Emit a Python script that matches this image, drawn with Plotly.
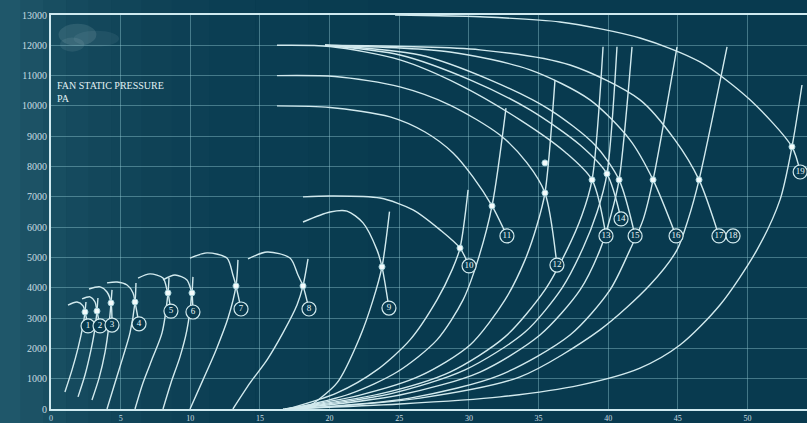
import plotly.graph_objects as go

# ---------------- data (flow rate vs. fan static pressure, Pa) ----------------
y_ticks = list(range(0, 13001, 1000))
y_tick_text = [str(v) for v in y_ticks]
x_ticks = [0, 5, 10, 15, 20, 25, 30, 35, 40, 45, 50]

# fan characteristic curves (one list per fan), ending at the label position
fan_x = [
    [1.22, 1.87, 2.30, 2.44, 2.66],
    [2.23, 2.80, 3.16, 3.30, 3.52],
    [2.73, 3.52, 4.02, 4.31, 4.38],
    [4.02, 4.74, 5.46, 5.89, 6.03, 6.32],
    [6.25, 7.11, 8.04, 8.33, 8.40, 8.61],
    [8.04, 8.90, 9.76, 10.05, 10.12, 10.19],
    [9.98, 11.20, 12.63, 13.06, 13.28, 13.64],
    [14.14, 15.51, 17.16, 17.73, 18.09, 18.52],
    [18.09, 20.03, 21.25, 22.40, 23.40, 23.76, 24.26],
    [18.09, 20.03, 23.62, 25.99, 27.93, 29.36, 30.01],
    [16.22, 20.03, 24.34, 26.85, 28.86, 30.29, 31.66, 32.73],
    [16.22, 20.39, 25.05, 28.64, 32.23, 34.17, 35.46, 36.32],
    [16.22, 20.03, 25.05, 29.36, 33.67, 36.90, 38.84, 39.84],
    [19.67, 25.05, 30.08, 34.39, 37.98, 39.91, 40.92],
    [19.67, 26.49, 31.51, 35.82, 39.05, 40.78, 41.93],
    [19.67, 28.64, 34.39, 38.69, 41.56, 43.22, 44.87],
    [19.67, 30.80, 37.26, 42.28, 44.79, 46.52, 47.95],
    [24.70, 30.80, 36.54, 42.28, 46.59, 50.18, 53.19, 53.78],
]
fan_y = [
    [3430, 3530, 3400, 3200, 2740],
    [3630, 3700, 3530, 3230, 2740],
    [3960, 4030, 3860, 3500, 2770],
    [4160, 4190, 4090, 3830, 3530, 2810],
    [4320, 4460, 4320, 3930, 3830, 3230],
    [4260, 4420, 4260, 3930, 3830, 3200],
    [4980, 5150, 4980, 4420, 4060, 3300],
    [4950, 5180, 4980, 4420, 4060, 3300],
    [6170, 6500, 6530, 6140, 5250, 4690, 3330],
    [7000, 7030, 6960, 6570, 5910, 5310, 4720],
    [10000, 9950, 9640, 9140, 8450, 7660, 6700, 5710],
    [11000, 10970, 10630, 10030, 9040, 8120, 7130, 4750],
    [12000, 11960, 11520, 10690, 9540, 8480, 7560, 5710],
    [12000, 11680, 10860, 9870, 8710, 7760, 6270],
    [12000, 11680, 10860, 9870, 8710, 7560, 5710],
    [12000, 11780, 11190, 10200, 8880, 7560, 5710],
    [12000, 11850, 11350, 10200, 8880, 7560, 5710],
    [13000, 12940, 12770, 12240, 11450, 10200, 8650, 7820],
]

# system resistance curves
sys_x = [
    [1.00, 1.51, 1.94, 2.30, 2.44, 2.51],
    [1.94, 2.44, 2.87, 3.16, 3.30, 3.37],
    [2.94, 3.45, 3.88, 4.16, 4.31, 4.38],
    [4.02, 4.59, 5.17, 5.67, 6.03, 6.10],
    [6.03, 6.60, 7.32, 7.97, 8.40, 8.47],
    [8.04, 8.61, 9.26, 9.76, 10.12, 10.19],
    [9.98, 10.91, 11.85, 12.71, 13.28, 13.42],
    [13.06, 14.29, 15.51, 16.65, 17.66, 18.09, 18.45],
    [18.30, 20.53, 22.18, 23.12, 23.76, 24.30],
    [17.01, 20.53, 23.40, 25.77, 27.71, 28.79, 29.36, 29.94],
    [17.16, 21.46, 24.84, 27.71, 29.58, 30.65, 31.66, 32.66],
    [16.80, 22.18, 26.49, 30.08, 32.59, 34.03, 34.89, 35.46, 36.18],
    [16.80, 23.62, 28.64, 32.59, 35.46, 37.04, 38.12, 38.84, 39.63],
    [16.94, 24.34, 29.72, 34.03, 36.68, 38.19, 39.20, 39.91, 40.63],
    [17.16, 25.05, 30.80, 35.10, 37.98, 39.41, 40.20, 40.78, 41.71],
    [17.30, 25.77, 32.23, 37.26, 40.13, 41.56, 42.50, 43.22, 44.94],
    [17.52, 26.49, 33.67, 39.41, 42.99, 44.94, 45.73, 46.52, 48.53],
    [16.65, 25.05, 32.23, 37.98, 42.28, 45.15, 48.02, 50.68, 52.33, 53.19, 53.91],
]
sys_y = [
    [560, 1290, 2010, 2770, 3200, 3530],
    [400, 1120, 1950, 2670, 3230, 3660],
    [300, 1020, 1880, 2770, 3500, 3930],
    [0, 860, 1720, 2510, 3530, 4160],
    [0, 860, 1720, 2510, 3830, 4320],
    [0, 860, 1720, 2610, 3830, 4360],
    [0, 960, 1950, 3000, 4060, 4920],
    [0, 860, 1620, 2510, 3430, 4060, 4950],
    [0, 860, 2380, 3600, 4690, 6510],
    [0, 530, 1290, 2280, 3600, 4590, 5310, 7230],
    [0, 500, 1220, 2280, 3600, 4920, 6700, 9930],
    [0, 460, 1090, 2110, 3600, 4920, 6070, 7130, 10860],
    [0, 500, 1220, 2380, 3930, 5250, 6400, 7560, 11950],
    [0, 500, 1290, 2540, 3990, 5310, 6500, 7760, 11950],
    [0, 460, 1220, 2440, 3930, 5250, 6400, 7560, 11950],
    [0, 360, 1120, 2440, 3930, 5250, 6240, 7560, 11950],
    [0, 360, 1060, 2610, 4090, 5250, 6240, 7560, 11950],
    [0, 165, 400, 790, 1350, 2110, 3430, 5250, 6900, 8650, 10690],
]

# operating points
op_x = [2.44, 3.30, 4.31, 6.03, 8.40, 10.12, 13.28, 18.09, 23.76, 29.36,
        31.66, 35.46, 35.46, 38.84, 39.91, 40.78, 43.22, 46.52, 53.19]
op_y = [3200, 3230, 3500, 3530, 3830, 3830, 4060, 4060, 4690, 5310,
        6700, 7130, 8120, 7560, 7760, 7560, 7560, 7560, 8650]

# numbered fan labels
label_text = ["1", "2", "3", "4", "5", "6", "7", "8", "9", "10", "11", "12",
              "13", "14", "15", "16", "17", "18", "19"]
label_x = [2.66, 3.52, 4.38, 6.32, 8.61, 10.19, 13.64, 18.52, 24.26, 30.01,
           32.73, 36.32, 39.84, 40.92, 41.93, 44.87, 47.95, 48.96, 53.78]
label_y = [2740, 2740, 2770, 2810, 3230, 3200, 3300, 3300, 3330, 4720,
           5710, 4750, 5710, 6270, 5710, 5710, 5710, 5710, 7820]

# ---------------- styling ----------------
BG = "#083a4f"
LINE = "#d2eaee"
GRID = "rgba(150,205,215,0.42)"
FONT = "Liberation Serif"

fig = go.Figure()

for xs, ys in zip(sys_x, sys_y):
    fig.add_trace(go.Scatter(x=xs, y=ys, mode="lines",
                             line=dict(color=LINE, width=1.4, shape="spline", smoothing=0.8),
                             hoverinfo="skip", showlegend=False))
for xs, ys in zip(fan_x, fan_y):
    fig.add_trace(go.Scatter(x=xs, y=ys, mode="lines",
                             line=dict(color=LINE, width=1.4, shape="spline", smoothing=0.8),
                             hoverinfo="skip", showlegend=False))

fig.add_trace(go.Scatter(x=op_x, y=op_y, mode="markers",
                         marker=dict(size=6, color="#f4fbfc", line=dict(color="#a8d4dc", width=1)),
                         hoverinfo="skip", showlegend=False))

fig.add_trace(go.Scatter(x=label_x, y=label_y, mode="markers+text", text=label_text,
                         textposition="middle center",
                         textfont=dict(family=FONT, size=9, color="#e8f6f8"),
                         marker=dict(size=14, color=BG, line=dict(color=LINE, width=1.2)),
                         hoverinfo="skip", showlegend=False, cliponaxis=False))

# lighter left-hand glow of the background (smooth fade)
shapes = []
edges = [-0.07, -0.04, -0.01, 0.02, 0.05, 0.08, 0.12, 0.16, 0.21, 0.27, 0.34, 0.42]
alphas = [0.26, 0.22, 0.18, 0.15, 0.12, 0.10, 0.08, 0.06, 0.045, 0.03, 0.015]
for i, a in enumerate(alphas):
    shapes.append(dict(type="rect", xref="paper", yref="paper", x0=edges[i], x1=edges[i + 1],
                       y0=-0.04, y1=1.04, fillcolor="#64aab8", opacity=a,
                       line=dict(width=0), layer="below"))
# faint cloudy smudge near the top-left corner
for cx, cy, rx, ry, a in [(0.035, 0.95, 0.025, 0.028, 0.12), (0.06, 0.94, 0.03, 0.02, 0.07),
                          (0.028, 0.925, 0.016, 0.018, 0.09)]:
    shapes.append(dict(type="circle", xref="paper", yref="paper", x0=cx - rx, x1=cx + rx,
                       y0=cy - ry, y1=cy + ry, fillcolor="#cfe6ea", opacity=a,
                       line=dict(width=0), layer="below"))

fig.update_layout(
    width=807, height=423,
    margin=dict(l=51, r=0, t=15, b=14),
    paper_bgcolor=BG, plot_bgcolor="rgba(0,0,0,0)",
    shapes=shapes,
    showlegend=False,
    font=dict(family=FONT, color="#c8dde1", size=10),
)
fig.update_xaxes(range=[0, 54.27], tickvals=x_ticks, showgrid=True, gridcolor=GRID,
                 gridwidth=1, zeroline=False, showline=True, linecolor="#cfeaf0",
                 linewidth=2, mirror=True, ticks="", automargin=False,
                 tickfont=dict(size=8, family=FONT))
fig.update_yaxes(range=[0, 13000], tickvals=y_ticks, ticktext=y_tick_text, showgrid=True,
                 gridcolor=GRID, gridwidth=1, zeroline=False, showline=True,
                 linecolor="#cfeaf0", linewidth=2, mirror=True, ticks="", automargin=False,
                 tickfont=dict(size=10, family=FONT))

fig.add_annotation(x=0.005, y=10000, xref="paper", yref="y", xanchor="left", yanchor="bottom",
                   text="FAN STATIC PRESSURE<br>PA", showarrow=False, align="left",
                   font=dict(family=FONT, size=10, color="#e2f1f4"))

fig.write_html("out.html")
